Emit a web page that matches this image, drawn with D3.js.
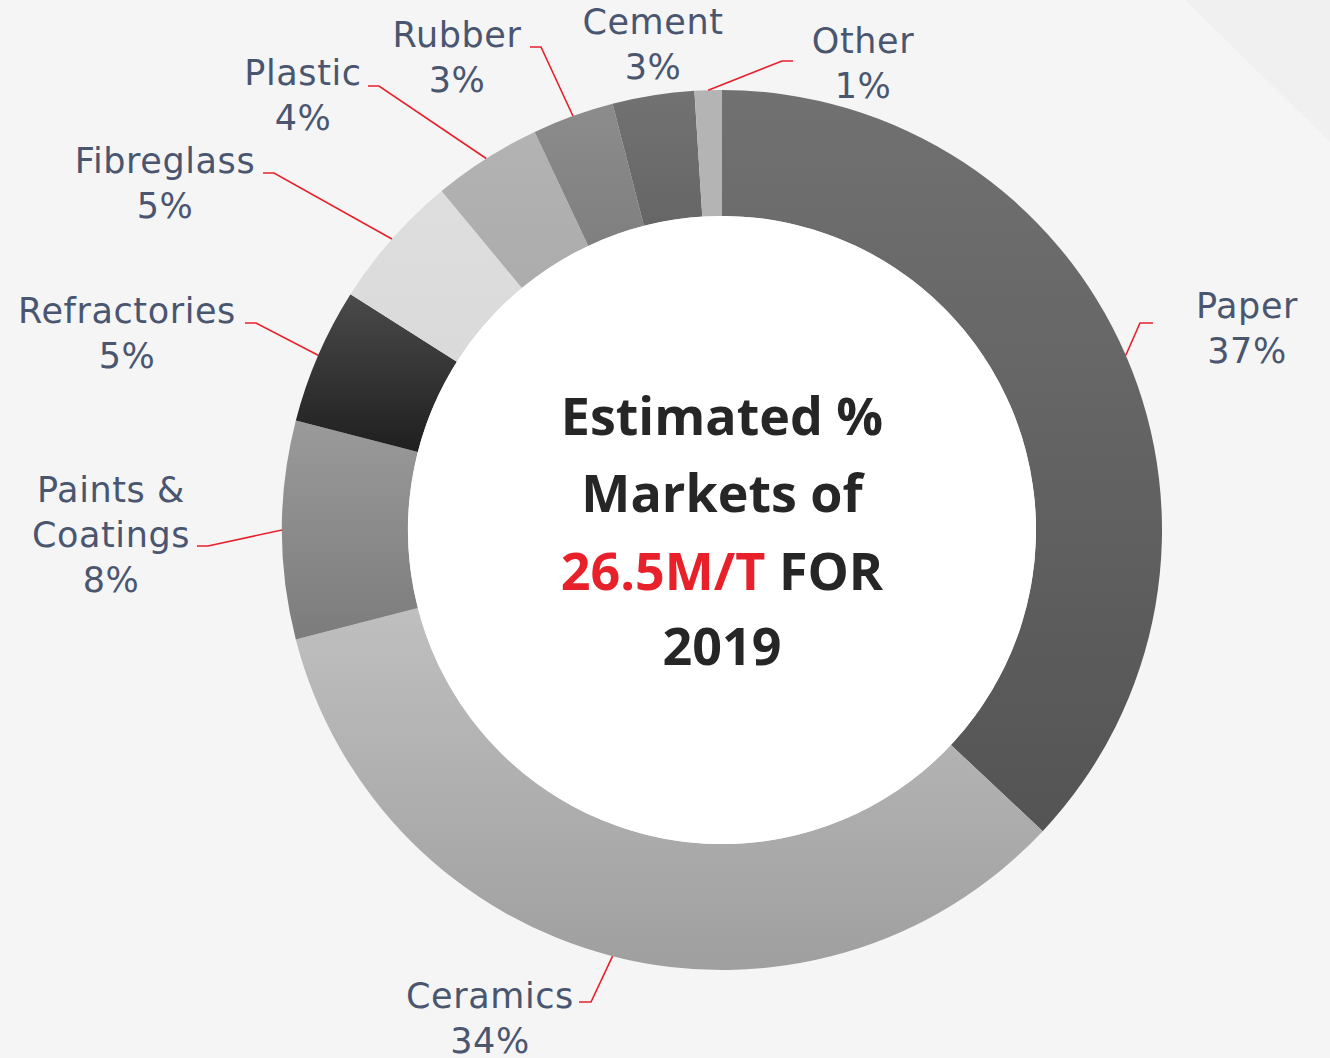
<!DOCTYPE html>
<html>
<head>
<meta charset="utf-8">
<script src="https://cdn.jsdelivr.net/npm/d3@7"></script>
<style>
  html, body { margin: 0; padding: 0; background: #f5f5f5; }
  svg { display: block; }
</style>
</head>
<body>
<svg></svg>
<script>
const width = 1330;
const height = 1058;

// data (share of 26.5M/T, 2019)
const markets = ["Paper", "Ceramics", "Paints & Coatings", "Refractories", "Fibreglass", "Plastic", "Rubber", "Cement", "Other"];
const shares = [37, 34, 8, 5, 5, 4, 3, 3, 1];
const nameLines = [["Paper"], ["Ceramics"], ["Paints &", "Coatings"], ["Refractories"], ["Fibreglass"], ["Plastic"], ["Rubber"], ["Cement"], ["Other"]];
const centerLines = [["Estimated %"], ["Markets of"], ["26.5M/T", " FOR"], ["2019"]];

// slice fill: top and bottom of a vertical gradient
const sliceColors = [
    ["#717171", "#545454"],
    ["#bfbfbf", "#9f9f9f"],
    ["#9a9a9a", "#7c7c7c"],
    ["#4a4a4a", "#1f1f1f"],
    ["#dedede", "#dadada"],
    ["#b3b3b3", "#acacac"],
    ["#8c8c8c", "#7f7f7f"],
    ["#727272", "#666666"],
    ["#b4b4b4", "#b4b4b4"]
];

// label layout: text centre x, first baseline y, horizontal leader stub [x0, x1, y]
const labelLayout = [
    {x: 1247, y: 318, stub: [1153, 1140, 323]},
    {x: 490,  y: 1008, stub: [579, 591, 1002]},
    {x: 111,  y: 502, stub: [197, 208, 546]},
    {x: 127,  y: 323, stub: [245, 256, 323]},
    {x: 165,  y: 173, stub: [263, 274, 173]},
    {x: 303,  y: 85,  stub: [368, 379, 86]},
    {x: 457,  y: 47,  stub: [530, 541, 47]},
    {x: 653,  y: 34,  stub: null},
    {x: 863,  y: 53,  stub: [793, 782, 61]}
];

const cx = 722, cy = 530;
const outerR = 440, innerR = 314;
const lineH = 45;

const svg = d3.select('svg')
    .attr('width', width).attr('height', height);

// background with the faint corner band
svg.append('rect')
    .attr('width', width).attr('height', height)
    .attr('fill', '#f5f5f5');
svg.append('path')
    .attr('d', `M1185,0 L${width},0 L${width},142 Z`)
    .attr('fill', '#f0f0f0');

const defs = svg.append('defs');
sliceColors.forEach((c, i) => {
    const g = defs.append('linearGradient')
        .attr('id', 'grad' + i)
        .attr('x1', 0).attr('y1', 0).attr('x2', 0).attr('y2', 1);
    g.append('stop').attr('offset', '0%').attr('stop-color', c[0]);
    g.append('stop').attr('offset', '100%').attr('stop-color', c[1]);
});

const pie = d3.pie().sort(null).value(d => d);
const arcs = pie(shares);
const arc = d3.arc().innerRadius(innerR).outerRadius(outerR);
const edge = d3.arc().innerRadius(outerR).outerRadius(outerR);

const chart = svg.append('g').attr('transform', `translate(${cx},${cy})`);

chart.selectAll('path.slice')
    .data(arcs)
    .enter().append('path')
    .attr('class', 'slice')
    .attr('d', arc)
    .attr('fill', (d, i) => `url(#grad${i})`);

chart.append('circle')
    .attr('r', innerR)
    .attr('fill', '#ffffff');

// leader lines
const leaders = svg.append('g');
arcs.forEach((d, i) => {
    const s = labelLayout[i].stub;
    if (!s) return;
    const p = edge.centroid(d);
    const pts = [[s[0], s[2]], [s[1], s[2]], [p[0] + cx, p[1] + cy]];
    leaders.append('path')
        .attr('d', d3.line()(pts))
        .attr('fill', 'none')
        .attr('stroke', '#e8202a')
        .attr('stroke-width', 1.6);
});

// labels
const labels = svg.append('g')
    .attr('font-family', '"DejaVu Sans", sans-serif')
    .attr('font-weight', 400)
    .attr('font-size', 35)
    .attr('letter-spacing', 0.6)
    .attr('fill', '#4a5670')
    .attr('text-anchor', 'middle');

markets.forEach((m, i) => {
    const L = labelLayout[i];
    const lines = nameLines[i].concat([shares[i] + '%']);
    lines.forEach((t, j) => {
        labels.append('text')
            .attr('x', L.x)
            .attr('y', L.y + j * lineH)
            .text(t);
    });
});

// centre title
const title = svg.append('g')
    .attr('font-family', '"Open Sans", sans-serif')
    .attr('font-weight', 700)
    .attr('font-size', 52)
    .attr('fill', '#262626')
    .attr('text-anchor', 'middle');
const titleBase = [435, 512, 590, 665];
centerLines.forEach((parts, j) => {
    const t = title.append('text')
        .attr('x', cx)
        .attr('y', titleBase[j]);
    parts.forEach((p, k) => {
        t.append('tspan')
            .attr('fill', (j === 2 && k === 0) ? '#e8202a' : null)
            .text(p);
    });
});
</script>
</body>
</html>
